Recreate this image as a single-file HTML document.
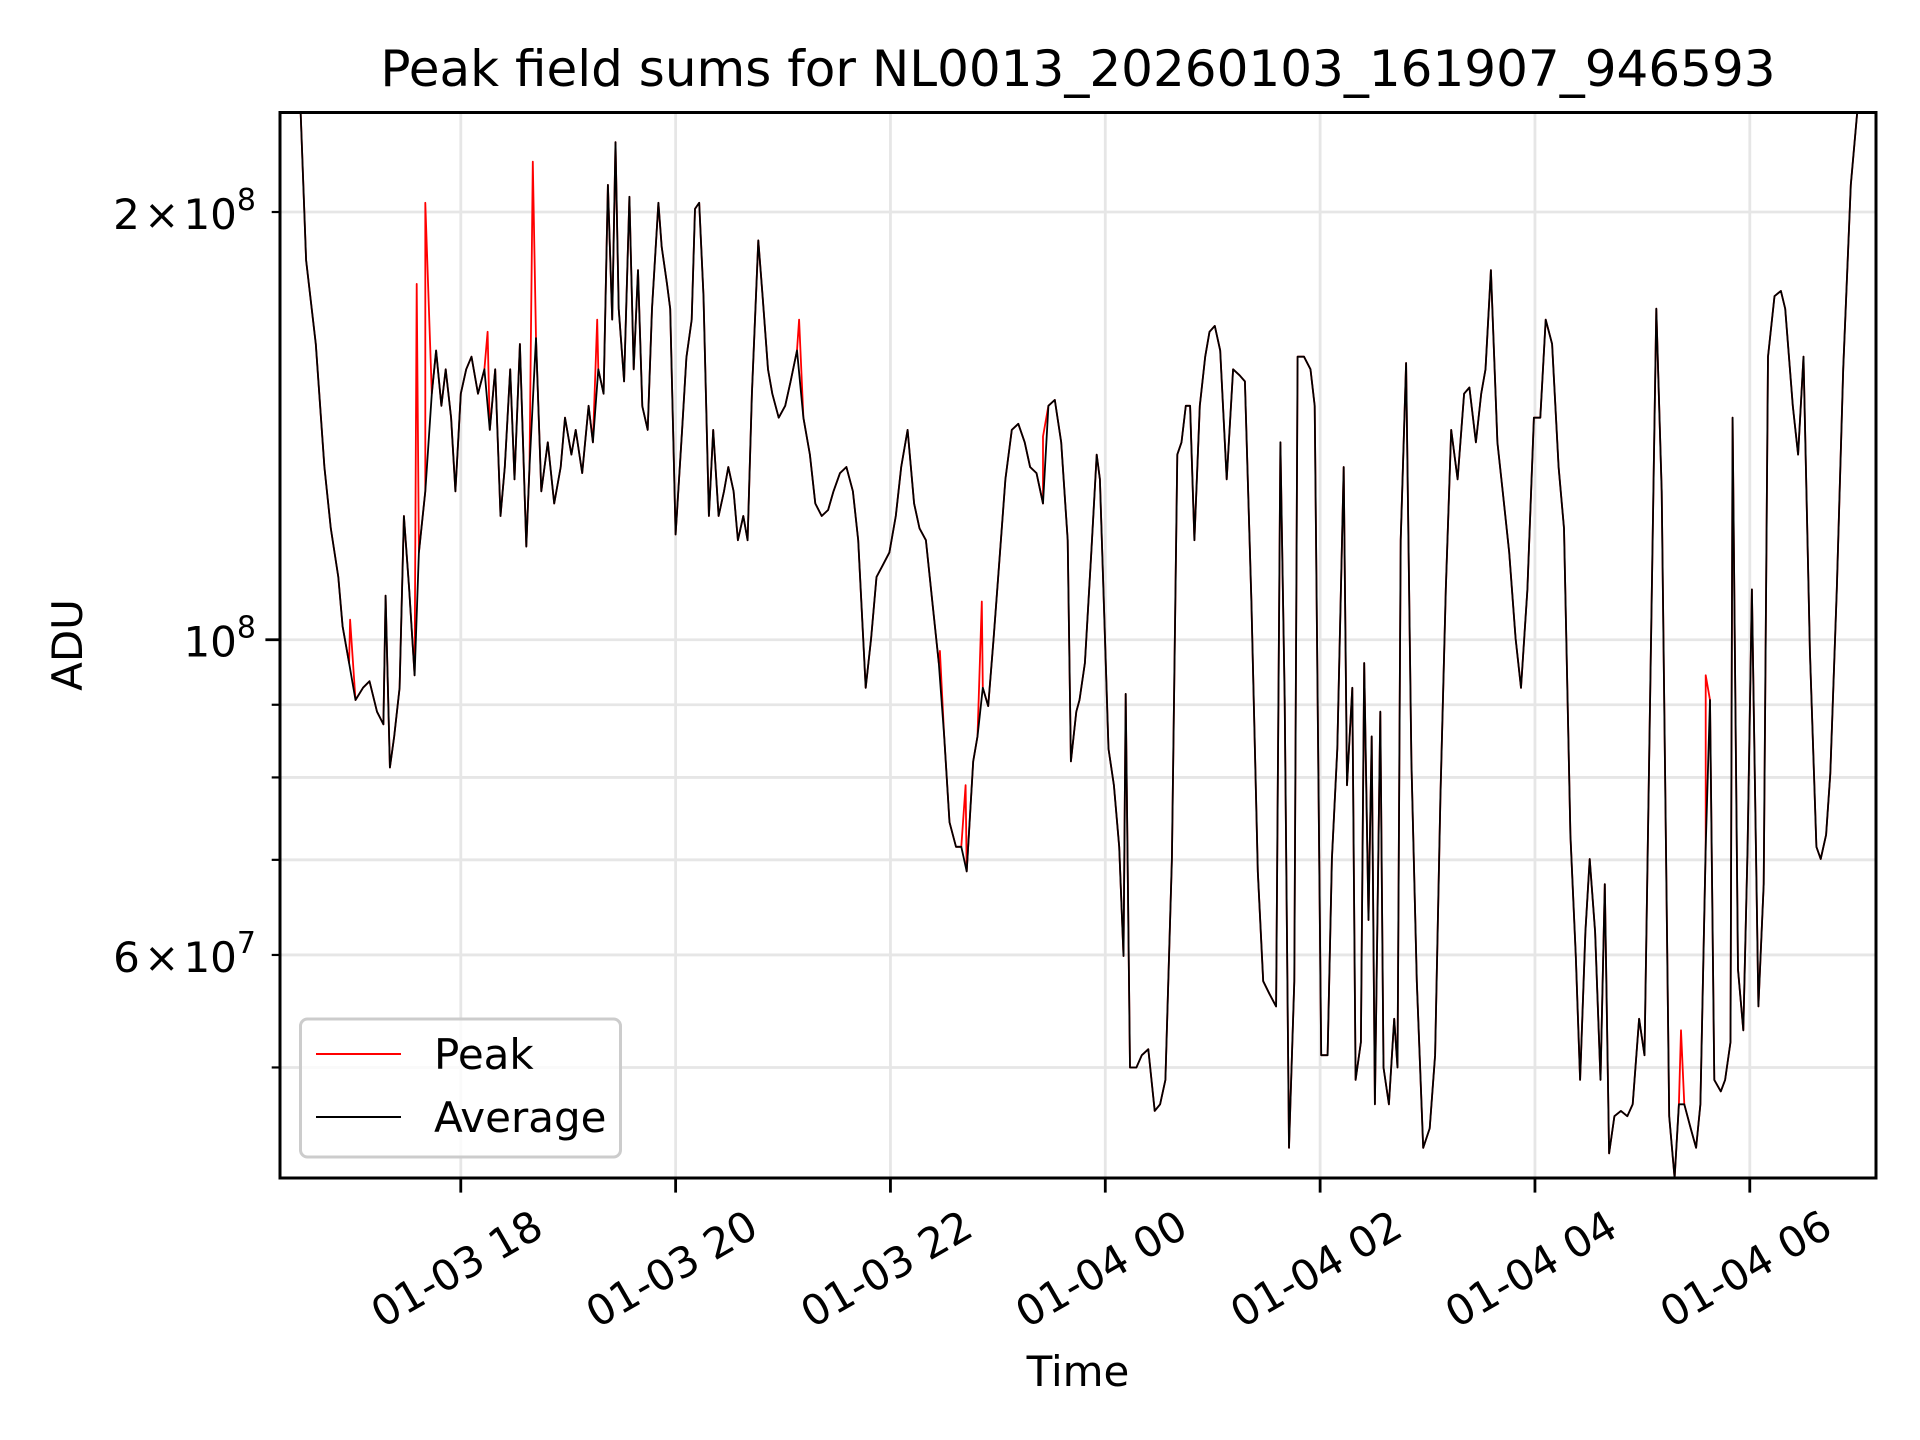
<!DOCTYPE html>
<html><head><meta charset="utf-8"><style>
html,body{margin:0;padding:0;background:#fff;}
svg{display:block;font-family:"DejaVu Sans","Liberation Sans",sans-serif;}
</style></head><body>
<svg id="chart" width="1920" height="1440" viewBox="0 0 1920 1440" xmlns="http://www.w3.org/2000/svg">
<rect width="1920" height="1440" fill="#fff"/>
<defs><clipPath id="clip"><rect x="280" y="112.5" width="1596" height="1065.5"/></clipPath></defs>
<g id="grid"></g>
<g id="series" clip-path="url(#clip)"></g>
<rect x="280" y="112.5" width="1596" height="1065.5" fill="none" stroke="#000" stroke-width="3"/>
<g id="axes"></g>
<text x="1078" y="86" font-size="50" text-anchor="middle">Peak field sums for NL0013_20260103_161907_946593</text>
<text x="1078" y="1386" font-size="42" text-anchor="middle">Time</text>
<text transform="translate(82,645) rotate(-90)" font-size="42" text-anchor="middle">ADU</text>
<g>
<rect x="300.5" y="1019" width="320" height="138" rx="7" fill="#fff" fill-opacity="0.8" stroke="#cccccc" stroke-width="3"/>
<line x1="316" y1="1054" x2="401" y2="1054" stroke="#ff0000" stroke-width="2"/>
<text x="434" y="1069" font-size="42">Peak</text>
<line x1="316" y1="1117" x2="401" y2="1117" stroke="#000" stroke-width="2"/>
<text x="434" y="1132" font-size="42">Average</text>
</g>
</svg>
<script>
// times in hours since 2026-01-03 00:00; values in millions of ADU
const avgTimes = [16.50,16.56,16.65,16.73,16.79,16.86,16.90,16.96,17.02,17.09,17.15,17.22,17.28,17.30,17.34,17.38,17.43,17.47,17.52,17.57,17.61,17.67,17.73,17.77,17.82,17.86,17.91,17.95,18.00,18.05,18.10,18.16,18.22,18.27,18.32,18.37,18.41,18.46,18.50,18.55,18.61,18.64,18.70,18.75,18.81,18.87,18.93,18.97,19.03,19.07,19.13,19.19,19.23,19.28,19.33,19.37,19.41,19.44,19.47,19.52,19.57,19.61,19.65,19.69,19.74,19.78,19.84,19.87,19.92,19.95,20.00,20.06,20.10,20.15,20.18,20.22,20.26,20.31,20.35,20.40,20.45,20.49,20.54,20.58,20.63,20.67,20.71,20.77,20.81,20.86,20.90,20.96,21.02,21.07,21.13,21.19,21.25,21.30,21.36,21.42,21.47,21.53,21.59,21.65,21.70,21.77,21.82,21.87,21.93,21.99,22.05,22.10,22.16,22.22,22.27,22.33,22.39,22.45,22.50,22.55,22.61,22.66,22.71,22.77,22.81,22.86,22.91,22.96,23.02,23.07,23.13,23.19,23.25,23.30,23.36,23.42,23.47,23.53,23.59,23.65,23.68,23.73,23.76,23.81,23.87,23.92,23.95,23.99,24.03,24.08,24.13,24.17,24.19,24.23,24.29,24.34,24.40,24.46,24.51,24.56,24.62,24.67,24.71,24.75,24.79,24.83,24.88,24.93,24.97,25.02,25.07,25.13,25.19,25.25,25.30,25.36,25.42,25.47,25.53,25.59,25.63,25.67,25.71,25.76,25.79,25.85,25.91,25.95,26.01,26.07,26.11,26.16,26.22,26.25,26.30,26.33,26.38,26.41,26.45,26.48,26.51,26.56,26.59,26.64,26.69,26.72,26.75,26.80,26.85,26.90,26.96,27.02,27.07,27.12,27.17,27.22,27.28,27.34,27.39,27.45,27.50,27.54,27.59,27.65,27.70,27.76,27.82,27.87,27.93,27.99,28.05,28.10,28.16,28.22,28.27,28.33,28.38,28.42,28.47,28.51,28.56,28.61,28.65,28.69,28.74,28.80,28.86,28.91,28.97,29.02,29.07,29.13,29.18,29.25,29.30,29.34,29.39,29.45,29.50,29.54,29.59,29.63,29.67,29.73,29.77,29.82,29.84,29.89,29.94,29.98,30.02,30.08,30.13,30.17,30.23,30.29,30.33,30.40,30.45,30.50,30.56,30.62,30.66,30.71,30.75,30.81,30.87,30.94,31.00,31.05];
const avgValues = [245,185,161.5,132.3,119.8,110.7,102.2,96.3,90.7,92.5,93.5,89.0,87.2,107.4,81.3,85.5,92.5,122.2,108.5,94.4,115.2,127.2,149.0,159.8,146.1,155.0,143.3,127.2,149.0,155.0,158.2,149.0,155.0,140.5,155.0,122.2,132.3,155.0,129.7,161.5,116.3,132.3,163,127.2,137.7,124.7,132.3,143.3,135,140.5,131,146.1,137.7,155,149,209,168,224,171,152,205,155,182,146,140.5,171,203,189,178,171,118.6,140.5,158,168,201,203,174.5,122.2,140.5,122.2,127.2,132.3,127.2,117.5,122.2,117.5,149,191,174.5,155,149,143.3,146.1,152,159.8,143.3,135,124.7,122.2,123.4,127.2,131,132.3,127.2,117.5,92.5,100.2,110.7,112.9,115.2,122.2,132.3,140.5,124.7,119.8,117.5,106.4,96.3,85.5,74.4,71.5,71.5,68.7,82.1,85.5,92.5,89.8,100.2,115.2,129.7,140.5,141.9,137.7,132.3,131,124.7,146.1,147.5,137.7,117.5,82.1,89,90.7,96.3,115.2,135,129.7,104.3,83.8,79,71.5,59.9,91.6,50,50,51,51.5,46.6,47.1,49,70.1,135,137.7,146.1,146.1,117.5,146.1,158.2,164.7,166.3,159.8,129.7,155,153.5,152,106.4,68.7,57.5,56.3,55.2,137.7,90.7,43.9,57.5,158.2,158.2,155,146.1,51,51,70.1,83.8,132.3,79,92.5,49,52.1,96.3,63.5,85.5,47.1,89,50,47.1,54.1,50,117.5,156.6,82.1,57.5,43.9,45.3,51,77.4,108.5,140.5,129.7,149,150.5,137.7,149,155,182,137.7,127.2,115.2,100.2,92.5,108.5,143.3,143.3,168,161.5,132.3,119.8,72.9,59.9,49,62.3,70.1,62.3,49,67.3,43.5,46.2,46.6,46.2,47.1,54.1,51,89,171,127.2,46.2,41.8,47.1,47.1,45.3,43.9,47.1,71.5,90.7,49,48.1,49,52.1,143.3,58.6,53.1,71.5,108.5,55.2,67.3,158.2,174.5,176,171,146.1,135,158.2,98.2,71.5,70.1,72.9,80.5,108.5,155,209,235,250];
const peakSpikeTimes = [16.97,17.59,17.67,18.25,18.67,19.27,21.15,22.46,22.70,22.85,23.42,29.36,29.59];
const peakSpikeValues = [103.3,178,203,164.7,217,168,168,98.2,79,106.4,139,53.1,94.4];
const xTickHours = [18,20,22,24,26,28,30];
const xTickLabels = ["01-03 18","01-03 20","01-03 22","01-04 00","01-04 02","01-04 04","01-04 06"];
const yGridValues = [50,60,70,80,90,100,200];
const yLabelValues = [60,100,200];
const yLabelMantissa = ["6","","2"];
const yLabelExp = ["7","8","8"];

const X0=280, X1=1876, Y0=112.5, Y1=1178;
const H0=16.317, H1=31.175;
const L0=Math.log10(41.8), L1=Math.log10(235);
function xs(h){return X0+(h-H0)/(H1-H0)*(X1-X0);}
function ys(v){return Y1-(Math.log10(v)-L0)/(L1-L0)*(Y1-Y0);}
const NS="http://www.w3.org/2000/svg";
function mk(tag,attrs,parent){const e=document.createElementNS(NS,tag);for(const k in attrs)e.setAttribute(k,attrs[k]);parent.appendChild(e);return e;}
const grid=document.getElementById('grid'), axes=document.getElementById('axes'), series=document.getElementById('series');

xTickHours.forEach((h,i)=>{
  const x=xs(h);
  const g=mk('line',{x1:x,y1:Y0,x2:x,y2:Y1,stroke:'#e6e6e6','stroke-width':2.8},grid);
  
  
  const t=mk('line',{x1:x,y1:Y1,x2:x,y2:Y1+14.6,stroke:'#000','stroke-width':2.8},axes);
  
  
  const lbl=mk('text',{x:0,y:0,'font-size':42,'text-anchor':'middle','dominant-baseline':'central',transform:`translate(${x-4},1269) rotate(-30)`},axes);
  lbl.textContent=xTickLabels[i];
  
  
});
yGridValues.forEach(v=>{
  const y=ys(v);
  const g=mk('line',{x1:X0,y1:y,x2:X1,y2:y,stroke:'#e6e6e6','stroke-width':2.8},grid);
  
  
  const major=(v===100);
  const t=mk('line',{x1:X0-(major?14.6:8.3),y1:y,x2:X0,y2:y,stroke:'#000','stroke-width':major?2.8:2.2},axes);
  
  
});
yLabelValues.forEach((v,i)=>{
  const y=ys(v);
  const t=mk('text',{x:X0-24,y:y+17,'font-size':42,'text-anchor':'end'},axes);
  
  
  let s=yLabelMantissa[i]?`<tspan>${yLabelMantissa[i]}\u200a\u00d7\u200a10</tspan>`:'<tspan>10</tspan>';
  s+=`<tspan dy="-19" font-size="30">${yLabelExp[i]}</tspan>`;
  t.innerHTML=s;
});

function pathFrom(ts,vs){let d='';ts.forEach((h,i)=>{d+=(i?'L':'M')+xs(h).toFixed(1)+','+ys(vs[i]).toFixed(1);});return d;}
// peak series = average samples merged with spike samples
const peakPts=avgTimes.map((h,i)=>[h,avgValues[i]]).concat(peakSpikeTimes.map((h,i)=>[h,peakSpikeValues[i]])).sort((a,b)=>a[0]-b[0]);
const pk=mk('path',{d:pathFrom(peakPts.map(p=>p[0]),peakPts.map(p=>p[1])),fill:'none',stroke:'#ff0000','stroke-width':1.8,'stroke-linejoin':'round'},series);


const av=mk('path',{d:pathFrom(avgTimes,avgValues),fill:'none',stroke:'#000','stroke-width':1.8,'stroke-linejoin':'round'},series);


</script>
</body></html>
